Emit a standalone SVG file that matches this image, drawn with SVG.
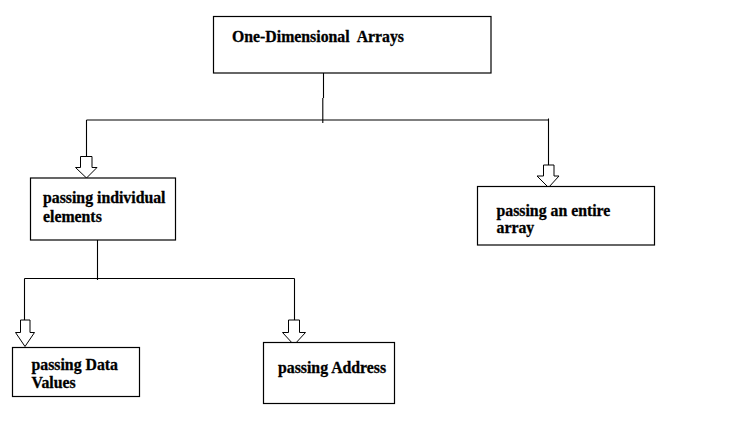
<svg xmlns="http://www.w3.org/2000/svg" width="735" height="448" viewBox="0 0 735 448">
<style>
.box{fill:#fff;stroke:#000;stroke-width:1.2}
.ln{fill:none;stroke:#000;stroke-width:1.1}
.arr{fill:#fff;stroke:#000;stroke-width:1}
.t{font-family:"Liberation Serif","Times New Roman",serif;font-weight:bold;font-size:15.8px;fill:#000;stroke:#000;stroke-width:0.3;white-space:pre}
</style>
<rect width="735" height="448" fill="#fff"/>
<g id="connectors">
<path class="ln" d="M323.5,73 V98 M322.8,98 V123 M86.5,120 H548.5 M86.5,120 V156.5 M548.5,118.5 V165"/>
<path class="ln" d="M97.5,240 V280 M24.5,278.5 H294.5 M24.5,278.5 V320 M294.5,278.5 V320"/>
<path class="arr" d="M80.5,156.5 H92 V167.5 H97 L86.5,178 L75.5,167.5 H80.5 Z"/>
<path class="arr" d="M543.5,165 H554 V176 H559 L548.5,187.5 L537,176 H543.5 Z"/>
<path class="arr" d="M20.5,320 H30 V332.5 H34.5 L25,346.5 L15.5,332.5 H20.5 Z"/>
<path class="arr" d="M288.5,320 H299.5 V332.5 H305.5 L294,345 L282.5,332.5 H288.5 Z"/>
</g>
<g id="n-root">
<rect class="box" x="213.5" y="16.5" width="277.5" height="56.5"/>
<text class="t" x="232" y="42">One-Dimensional  Arrays</text>
</g>
<g id="n-individual">
<rect class="box" x="30.5" y="178" width="145" height="62"/>
<text class="t" x="43" y="203">passing individual</text>
<text class="t" x="43" y="221.5">elements</text>
</g>
<g id="n-entire">
<rect class="box" x="477.5" y="186.5" width="177" height="58.5"/>
<text class="t" x="496.5" y="215.5">passing an entire</text>
<text class="t" x="496.5" y="233">array</text>
</g>
<g id="n-values">
<rect class="box" x="12.5" y="347.5" width="127" height="49"/>
<text class="t" x="31.5" y="370">passing Data</text>
<text class="t" x="31.5" y="388">Values</text>
</g>
<g id="n-address">
<rect class="box" x="263.5" y="342.5" width="131" height="61"/>
<text class="t" x="278" y="373">passing Address</text>
</g>
</svg>
